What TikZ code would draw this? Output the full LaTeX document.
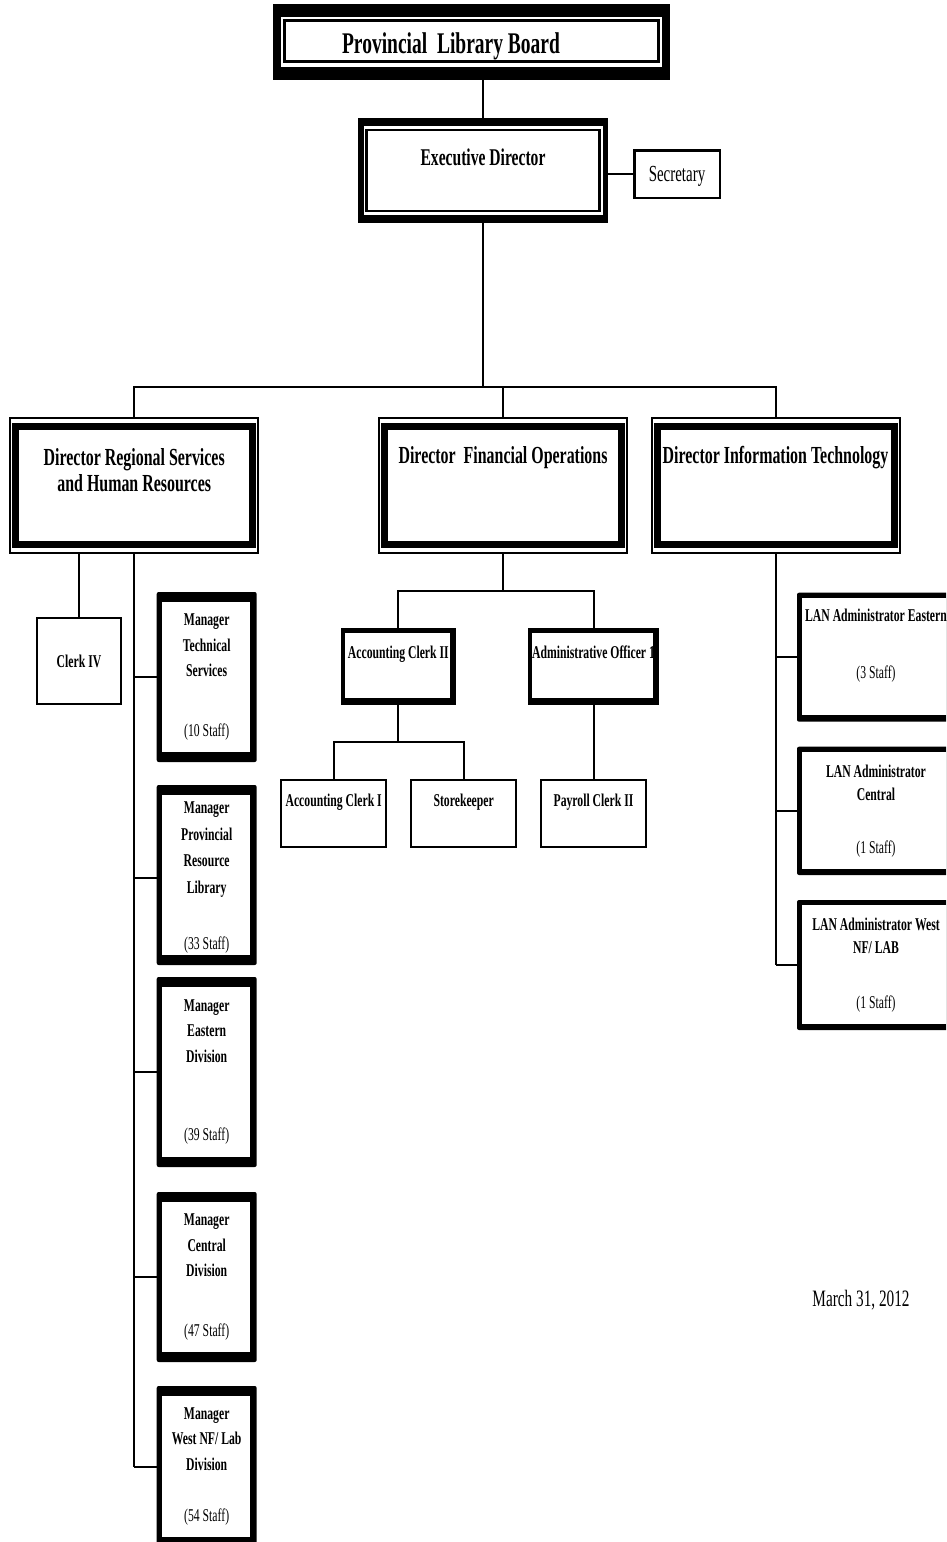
\documentclass[tikz,border=0pt]{standalone}
\usepackage{fontspec}
\setmainfont[FakeStretch=0.65]{Liberation Serif}
\usetikzlibrary{positioning}

\begin{document}
\begin{tikzpicture}[x=1pt,y=-1pt,line width=2pt,
        board/.style={fill=black, inner sep=0pt, outer sep=0pt, minimum width=397pt, minimum height=76pt,
            font=\fontsize{30}{32}\selectfont\bfseries, text height=22pt, text depth=0pt,
            path picture={
                \fill[white] ([xshift=8pt,yshift=13.5pt]path picture bounding box.south west)
                    rectangle ([xshift=-8pt,yshift=-12.5pt]path picture bounding box.north east);
                \draw[line width=2.5pt] ([xshift=11.5pt,yshift=18.5pt]path picture bounding box.south west)
                    rectangle ([xshift=-11.5pt,yshift=-16.5pt]path picture bounding box.north east);
            }},
        chief/.style={fill=black, inner sep=0pt, outer sep=0pt, minimum width=250pt, minimum height=105pt,
            font=\fontsize{24}{26}\selectfont\bfseries, text height=0pt, text depth=11pt,
            path picture={
                \fill[white] ([xshift=5.5pt,yshift=8pt]path picture bounding box.south west)
                    rectangle ([xshift=-5.5pt,yshift=-8pt]path picture bounding box.north east);
                \draw[line width=2.7pt] ([xshift=8.5pt,yshift=12pt]path picture bounding box.south west)
                    rectangle ([xshift=-8.5pt,yshift=-12pt]path picture bounding box.north east);
            }},
        director/.style={draw, inner sep=0pt, outer sep=0pt, minimum width=248pt, minimum height=135pt,
            font=\fontsize{24.5}{26.5}\selectfont\bfseries,
            path picture={
                \draw[line width=7pt] ([xshift=5.5pt,yshift=8.5pt]path picture bounding box.south west)
                    rectangle ([xshift=-5.5pt,yshift=-8.5pt]path picture bounding box.north east);
            }},
        dirtext/.style={align=center, inner sep=0pt, font=\fontsize{24.5}{26.5}\selectfont\bfseries},
        aide/.style={draw, line width=2.5pt, inner sep=0pt, outer sep=0pt, minimum width=85.5pt, minimum height=47.5pt,
            font=\fontsize{23}{25}\selectfont, text height=15.4pt, text depth=0pt},
        clerk/.style={draw, line width=2.5pt, inner sep=0pt, outer sep=0pt, minimum width=105pt, minimum height=67pt,
            font=\fontsize{18}{20}\selectfont\bfseries, text height=0pt, text depth=13.6pt},
        lead/.style={fill=black, inner sep=0pt, outer sep=0pt, minimum height=77pt,
            font=\fontsize{18}{20}\selectfont\bfseries, text height=0pt, text depth=17pt,
            path picture={
                \fill[white] ([xshift=4.3pt,yshift=6.7pt]path picture bounding box.south west)
                    rectangle ([xshift=-6pt,yshift=-5pt]path picture bounding box.north east);
            }},
        manager/.style={fill=black, rounded corners=2pt, inner sep=0pt, outer sep=0pt, minimum width=100pt,
            align=center, font=\fontsize{18}{25.5}\selectfont\bfseries,
            path picture={
                \fill[white, sharp corners] ([xshift=5pt,yshift=10pt]path picture bounding box.south west)
                    rectangle ([xshift=-6.5pt,yshift=-10pt]path picture bounding box.north east);
            }},
        lan/.style={fill=black, rounded corners=2pt, inner sep=0pt, outer sep=0pt, minimum width=158pt,
            align=center, font=\fontsize{18}{23.5}\selectfont\bfseries,
            path picture={
                \fill[white, sharp corners] ([xshift=4.5pt,yshift=6.5pt]path picture bounding box.south west)
                    rectangle ([xshift=-5pt,yshift=-5pt]path picture bounding box.north east);
            }}
    ]
    \clip (0,0) rectangle (946,1542);
    \fill[white] (0,0) rectangle (946,1542);

    % top of the chart
    \node[board] (board) at (471.5,42) {Provincial\ \ Library Board\hspace*{41pt}};
    \node[chief] (exec) at (483,170.5) {Executive Director};
    \node[aide] (sec) at (677,174) {Secretary};

    % directors
    \node[director] (d_reg) at (134.2,485.5) {};
    \node[dirtext] (d_reg_t) at ([yshift=15.5pt]d_reg.center) {Director Regional Services\\and Human Resources};
    \node[director, text height=0pt, text depth=45pt] (d_fin) at (503,485.5) {Director\ \ Financial Operations};
    \node[director, text height=0pt, text depth=45pt] (d_it) at (775.5,485.5) {Director Information Technology};

    % regional services
    \node[clerk, minimum width=84pt, minimum height=86pt, text height=13.4pt, text depth=0pt] (clerk) at (79,661) {Clerk IV};
    \node[manager, minimum height=170pt] (m_tech) at (206.7,677) {Manager\\Technical\\Services\\[34pt]{\mdseries (10 Staff)}};
    \node[manager, minimum height=180pt] (m_prov) at (206.7,875) {};
    \node[dirtext, font=\fontsize{18}{26.5}\selectfont\bfseries] (m_prov_t) at ([yshift=-3pt]m_prov.center) {Manager\\Provincial\\Resource\\Library\\[30pt]{\mdseries (33 Staff)}};
    \node[manager, minimum height=190pt] (m_east) at (206.7,1072) {Manager\\Eastern\\Division\\[53pt]{\mdseries (39 Staff)}};
    \node[manager, minimum height=170pt] (m_cent) at (206.7,1277) {Manager\\Central\\Division\\[34pt]{\mdseries (47 Staff)}};
    \node[manager, minimum height=161pt] (m_west) at (206.7,1466.5) {Manager\\West NF/ Lab\\Division\\[26pt]{\mdseries (54 Staff)}};

    % financial operations
    \node[lead, minimum width=115.3pt] (ac_2) at (398.3,666.5) {Accounting Clerk II};
    \node[lead, minimum width=131.7pt] (ao_1) at (593.5,666.5) {Administrative Officer 1};
    \node[clerk] (ac_1) at (333.7,813.5) {Accounting Clerk I};
    \node[clerk] (store) [right=25pt of ac_1] {Storekeeper};
    \node[clerk] (pay) at (593.5,813.5) {Payroll Clerk II};

    % information technology
    \node[lan, minimum height=129pt] (lan_e) at (876,657.2) {};
    \node[dirtext, font=\fontsize{18}{23.5}\selectfont\bfseries] (lan_e_t) at ([yshift=12pt]lan_e.center) {LAN Administrator Eastern\\[33.5pt]{\mdseries (3 Staff)}};
    \node[lan, minimum height=128.3pt] (lan_c) [below=25pt of lan_e] {LAN Administrator\\Central\\[29pt]{\mdseries (1 Staff)}};
    \node[lan, minimum height=130pt] (lan_w) [below=25pt of lan_c] {LAN Administrator West\\NF/ LAB\\[31.5pt]{\mdseries (1 Staff)}};

    \node[font=\fontsize{23.5}{25}\selectfont] (date) at (861,1300.5) {March 31, 2012};

    % connectors
    \coordinate (bus) at (483,387);
    \draw (board.south -| exec.north) -- (exec.north);
    \draw (exec.east |- sec.west) -- (sec.west);
    \draw (exec.south) -- (bus);
    \draw (d_reg.north) |- (bus) -| (d_it.north);
    \draw (d_fin.north) -- (d_fin.north |- bus);

    \draw (d_reg.south -| clerk.north) -- (clerk.north);
    \draw (d_reg.south) -- (d_reg.south |- m_west.west);
    \foreach \m in {m_tech,m_east,m_cent,m_west}
        \draw (d_reg.south |- \m.west) -- (\m.west);
    \draw (d_reg.south |- m_prov_t) -- (m_prov.west |- m_prov_t);

    \draw (d_fin.south) -- ([yshift=-38pt]d_fin.south);
    \draw (ac_2.north) |- ([yshift=-38pt]d_fin.south) -| (ao_1.north);
    \draw (ac_2.south) -- ([yshift=-37pt]ac_2.south);
    \draw (ac_1.north) |- ([yshift=-37pt]ac_2.south) -| (store.north);
    \draw (ao_1.south) -- (pay.north);

    \draw (d_it.south) -- (d_it.south |- lan_w.west);
    \foreach \l in {lan_e,lan_c,lan_w}
        \draw (d_it.south |- \l.west) -- (\l.west);
\end{tikzpicture}
\end{document}
